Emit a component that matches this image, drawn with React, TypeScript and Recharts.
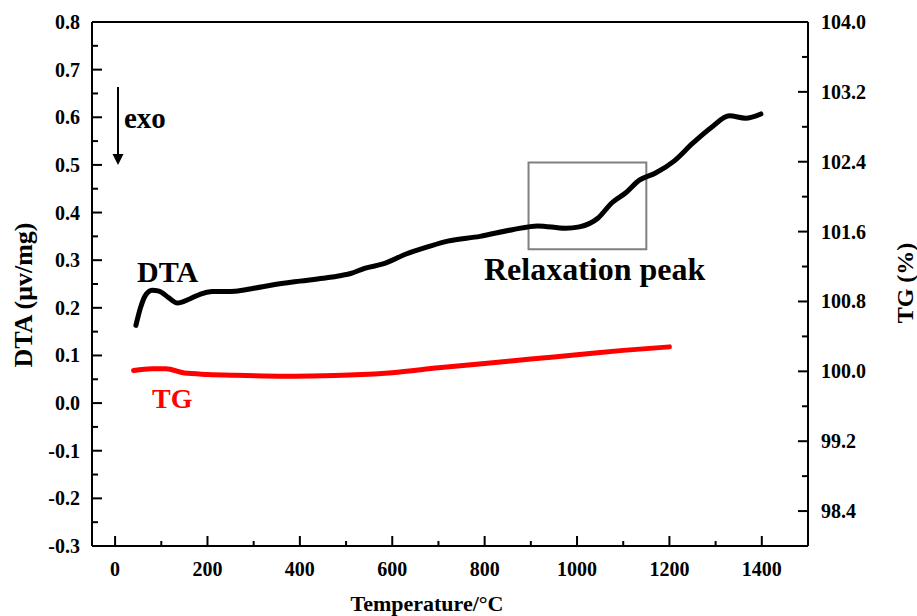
import { LineChart, Line, XAxis, YAxis, ReferenceArea, ReferenceLine } from 'recharts';

// DTA curve (left axis)
const dtaTemp = [45, 55, 65, 80, 95, 115, 135, 160, 185, 210, 260, 300, 340, 400, 450, 490, 510, 540, 580, 630, 680, 720, 790, 860, 915, 975, 1005, 1045, 1075, 1105, 1135, 1170, 1210, 1250, 1290, 1330, 1365, 1398];
const dtaValues = [0.163, 0.2, 0.225, 0.237, 0.235, 0.222, 0.21, 0.218, 0.229, 0.234, 0.235, 0.241, 0.248, 0.256, 0.262, 0.268, 0.272, 0.283, 0.292, 0.313, 0.329, 0.34, 0.35, 0.364, 0.372, 0.367, 0.37, 0.388, 0.42, 0.441, 0.468, 0.483, 0.508, 0.545, 0.578, 0.603, 0.598, 0.607];

// TG curve (right axis)
const tgTemp = [40, 80, 110, 150, 200, 260, 370, 450, 520, 600, 700, 800, 900, 1000, 1100, 1200];
const tgValues = [100.01, 100.03, 100.03, 99.98, 99.965, 99.955, 99.945, 99.95, 99.96, 99.985, 100.04, 100.09, 100.14, 100.19, 100.24, 100.28];

const xMajor = [0, 200, 400, 600, 800, 1000, 1200, 1400];
const xMinor = [100, 300, 500, 700, 900, 1100, 1300];
const dtaMajor = [-0.3, -0.2, -0.1, 0.0, 0.1, 0.2, 0.3, 0.4, 0.5, 0.6, 0.7, 0.8];
const dtaMinor = [-0.25, -0.15, -0.05, 0.05, 0.15, 0.25, 0.35, 0.45, 0.55, 0.65, 0.75];
const tgMajor = [98.4, 99.2, 100.0, 100.8, 101.6, 102.4, 103.2, 104.0];
const tgMinor = [98.8, 99.6, 100.4, 101.2, 102.0, 102.8, 103.6];

const dtaData = dtaTemp.map((t, i) => ({ t, dta: dtaValues[i] }));
const tgData = tgTemp.map((t, i) => ({ t, tg: tgValues[i] }));

const FONT = '"Liberation Serif", "Times New Roman", serif';

const isMajor = (list: number[], v: number) => list.some((m) => Math.abs(m - v) < 1e-6);

const XTick = (props: any) => {
  const { x, y, payload } = props;
  const major = isMajor(xMajor, payload.value);
  return (
    <g>
      <line x1={x} x2={x} y1={y} y2={y - (major ? 10 : 5)} stroke="#000" strokeWidth={2} />
      {major && (
        <text x={x} y={y + 30} textAnchor="middle" fontFamily={FONT} fontWeight="bold" fontSize={20} fill="#000">
          {payload.value}
        </text>
      )}
    </g>
  );
};

const LeftTick = (props: any) => {
  const { x, y, payload } = props;
  const major = isMajor(dtaMajor, payload.value);
  return (
    <g>
      <line x1={x} x2={x + (major ? 10 : 6)} y1={y} y2={y} stroke="#000" strokeWidth={2} />
      {major && (
        <text x={x - 12} y={y + 7} textAnchor="end" fontFamily={FONT} fontWeight="bold" fontSize={20} fill="#000">
          {payload.value.toFixed(1)}
        </text>
      )}
    </g>
  );
};

const RightTick = (props: any) => {
  const { x, y, payload } = props;
  const major = isMajor(tgMajor, payload.value);
  return (
    <g>
      <line x1={x} x2={x - (major ? 10 : 6)} y1={y} y2={y} stroke="#000" strokeWidth={2} />
      {major && (
        <text x={x + 13} y={y + 7} textAnchor="start" fontFamily={FONT} fontWeight="bold" fontSize={20} fill="#000">
          {payload.value.toFixed(1)}
        </text>
      )}
    </g>
  );
};

export default function App() {
  return (
    <div style={{ position: 'absolute', left: 0, top: 0, width: 917, height: 616, background: '#fff' }}>
      <LineChart width={917} height={616} margin={{ top: 22, right: 0, bottom: 0, left: 0 }}>
        <XAxis
          type="number"
          dataKey="t"
          domain={[-50, 1500]}
          ticks={[...xMajor, ...xMinor]}
          interval={0}
          tick={<XTick />}
          tickLine={false}
          tickSize={0}
          tickMargin={0}
          height={70}
          axisLine={{ stroke: '#000', strokeWidth: 2 }}
          allowDuplicatedCategory={false}
        />
        <YAxis
          yAxisId="left"
          type="number"
          domain={[-0.3, 0.8]}
          ticks={[...dtaMajor, ...dtaMinor]}
          interval={0}
          tick={<LeftTick />}
          tickLine={false}
          tickSize={0}
          tickMargin={0}
          width={92}
          axisLine={{ stroke: '#000', strokeWidth: 2 }}
        />
        <YAxis
          yAxisId="right"
          orientation="right"
          type="number"
          domain={[98.0, 104.0]}
          ticks={[...tgMajor, ...tgMinor]}
          interval={0}
          tick={<RightTick />}
          tickLine={false}
          tickSize={0}
          tickMargin={0}
          width={109}
          axisLine={{ stroke: '#000', strokeWidth: 2 }}
        />
        <ReferenceLine yAxisId="left" y={0.8} stroke="#000" strokeWidth={2} />
        <ReferenceArea
          yAxisId="left"
          x1={895}
          x2={1150}
          y1={0.323}
          y2={0.505}
          fill="none"
          fillOpacity={0}
          stroke="#808080"
          strokeWidth={2}
        />
        <Line
          yAxisId="left"
          data={dtaData}
          dataKey="dta"
          type="monotone"
          stroke="#000"
          strokeWidth={5}
          strokeLinecap="round"
          dot={false}
          isAnimationActive={false}
        />
        <Line
          yAxisId="right"
          data={tgData}
          dataKey="tg"
          type="monotone"
          stroke="#ff0000"
          strokeWidth={5}
          strokeLinecap="round"
          dot={false}
          isAnimationActive={false}
        />
      </LineChart>
      <svg width={917} height={616} style={{ position: 'absolute', left: 0, top: 0, pointerEvents: 'none' }}>
        <g fontFamily={FONT} fontWeight="bold" fill="#000">
          <line x1={118} y1={87} x2={118} y2={156} stroke="#000" strokeWidth={2} />
          <polygon points="112.5,154 123.5,154 118,165" fill="#000" />
          <text x={124} y={128} fontSize={29}>exo</text>
          <text x={137} y={282} fontSize={30}>DTA</text>
          <text x={152} y={408} fontSize={28} fill="#ff0000">TG</text>
          <text x={484} y={280} fontSize={32}>Relaxation peak</text>
          <text x={427} y={611} fontSize={22} textAnchor="middle">Temperature/°C</text>
          <text transform="translate(32,295) rotate(-90)" fontSize={26} textAnchor="middle">DTA (μv/mg)</text>
          <text transform="translate(913,283) rotate(-90)" fontSize={24} textAnchor="middle">TG (%)</text>
        </g>
      </svg>
    </div>
  );
}
